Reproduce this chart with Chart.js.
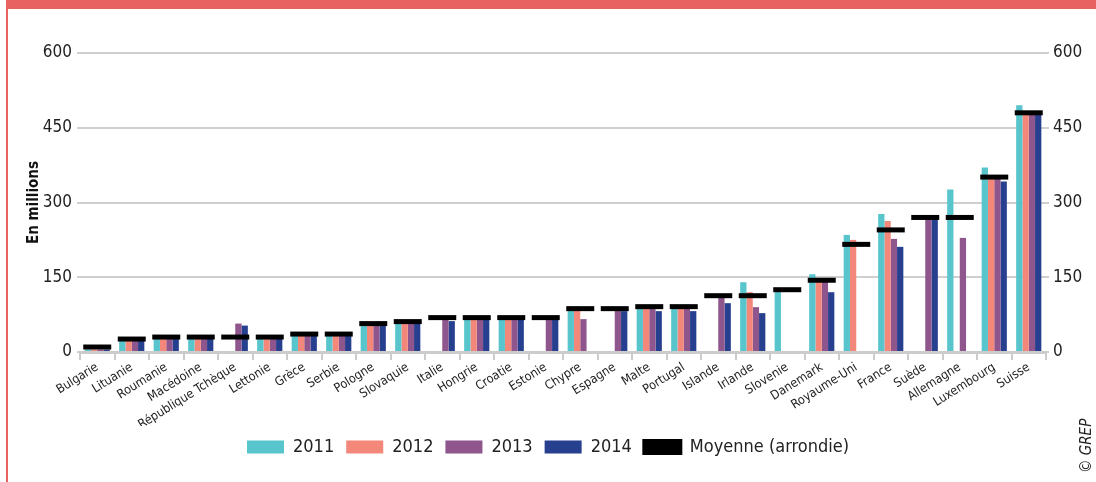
<!DOCTYPE html>
<html lang="fr">
<head>
<meta charset="utf-8">
<title>En millions</title>
<script src="https://cdn.jsdelivr.net/npm/chart.js@4/dist/chart.umd.min.js"></script>
<style>
    html, body { margin: 0; padding: 0; background: #fff; }
    body { width: 1096px; height: 482px; position: relative; overflow: hidden; }
    .topband { position: absolute; left: 6px; top: 0; width: 1090px; height: 9px; background: #e86262; }
    .leftline { position: absolute; left: 6px; top: 0; width: 2px; height: 482px; background: #e86262; }
    .copy {
        position: absolute; left: 1077px; top: 473px; transform: rotate(-90deg); transform-origin: left top;
        font: italic 15px 'DejaVu Sans Condensed', sans-serif; color: #222; white-space: nowrap;
    }
    #wrap { position: absolute; left: 0; top: 0; width: 1096px; height: 482px; }
</style>
</head>
<body>
<div id="wrap"><canvas id="chart"></canvas></div>
<div class="topband"></div>
<div class="leftline"></div>
<div class="copy">© GREP</div>
<script>
(function () {
    'use strict';

    const FONT = "'DejaVu Sans Condensed', sans-serif";

    const categories = ['Bulgarie', 'Lituanie', 'Roumanie', 'Macédoine', 'République Tchèque', 'Lettonie', 'Grèce',
        'Serbie', 'Pologne', 'Slovaquie', 'Italie', 'Hongrie', 'Croatie', 'Estonie', 'Chypre', 'Espagne', 'Malte',
        'Portugal', 'Islande', 'Irlande', 'Slovenie', 'Danemark', 'Royaume-Uni', 'France', 'Suède', 'Allemagne',
        'Luxembourg', 'Suisse'];

    const v2011 = [5, 24, 29, 29, null, 29, 35, 35, 54, 58, null, 67, 67, null, 85, null, 89, 89, null, 140, 122, 156, 235, 277, null, 326, 370, 495];
    const v2012 = [5, 24, 29, 29, null, 29, 35, 35, 54, 58, null, 67, 67, null, 85, null, 89, 89, null, 120, null, 142, 225, 263, null, null, 352, 478];
    const v2013 = [5, 24, 29, 29, 57, 29, 35, 35, 54, 58, 68, 67, 67, 67, 66, 86, 89, 89, 112, 90, null, 142, null, 227, 270, 229, 352, 478];
    const v2014 = [5, 24, 29, 29, 53, 29, 35, 35, 54, 58, 62, 67, 67, 67, null, 82, 82, 82, 98, 78, null, 120, null, 211, 270, null, 342, 478];
    const moyenne = [10, 26, 30, 30, 30, 30, 36, 36, 57, 61, 69, 69, 69, 69, 87, 87, 91, 91, 113, 113, 125, 144, 216, 245, 270, 270, 351, 480];

    const yTicks = [0, 150, 300, 450, 600];

    const bar = (label, data, color) => ({
        type: 'bar', label, data, backgroundColor: color, borderWidth: 0,
        categoryPercentage: 0.73, barPercentage: 1, order: 1, yAxisID: 'y'
    });

    new Chart(document.getElementById('chart'), {
        type: 'bar',
        data: {
            labels: categories,
            datasets: [
                bar('2011', v2011, '#58c5cd'),
                bar('2012', v2012, '#f3877a'),
                bar('2013', v2013, '#8e568c'),
                bar('2014', v2014, '#273f8f'),
                {
                    type: 'line', label: 'Moyenne (arrondie)', data: moyenne,
                    showLine: false, order: 0, yAxisID: 'y',
                    pointStyle: 'line', pointRadius: 14, pointHoverRadius: 14,
                    pointBorderColor: '#000', pointBorderWidth: 5, pointHoverBorderWidth: 5,
                    borderColor: '#000', backgroundColor: '#000'
                }
            ]
        },
        options: {
            responsive: true,
            maintainAspectRatio: false,
            animation: false,
            layout: { padding: { left: 0, right: 0, top: 53, bottom: 16 } },
            plugins: {
                tooltip: { enabled: false },
                legend: {
                    position: 'bottom',
                    labels: {
                        font: { family: FONT, size: 18 }, color: '#222',
                        boxWidth: 37, boxHeight: 13, padding: 12,
                        sort: (a, b) => a.datasetIndex - b.datasetIndex
                    }
                }
            },
            scales: {
                x: {
                    afterFit: axis => { axis.height = 74; },
                    grid: { offset: true, drawOnChartArea: false, tickLength: 8, color: '#cccccc', lineWidth: 2 },
                    border: { color: '#cccccc', width: 3 },
                    ticks: {
                        font: { family: FONT, size: 12.5 }, color: '#222',
                        maxRotation: 32, minRotation: 32, autoSkip: false, padding: 0
                    }
                },
                y: {
                    position: 'left', min: 0, max: 600,
                    afterBuildTicks: axis => { axis.ticks = yTicks.map(v => ({ value: v })); },
                    afterFit: axis => { axis.width = 80; },
                    grid: { color: '#cfcfcf', lineWidth: 2, tickLength: 3 },
                    border: { display: false },
                    ticks: { font: { family: FONT, size: 17 }, color: '#222', padding: 5 },
                    title: {
                        display: true, text: 'En millions', color: '#111',
                        font: { family: FONT, size: 15, weight: 'bold' }, padding: { top: 25, bottom: 0 }
                    }
                },
                y2: {
                    position: 'right', min: 0, max: 600,
                    afterBuildTicks: axis => { axis.ticks = yTicks.map(v => ({ value: v })); },
                    afterFit: axis => { axis.width = 50; },
                    grid: { drawOnChartArea: false, color: '#cfcfcf', lineWidth: 2, tickLength: 3 },
                    border: { display: false },
                    ticks: { font: { family: FONT, size: 17 }, color: '#222', padding: 4 }
                }
            }
        }
    });
})();
</script>
</body>
</html>
